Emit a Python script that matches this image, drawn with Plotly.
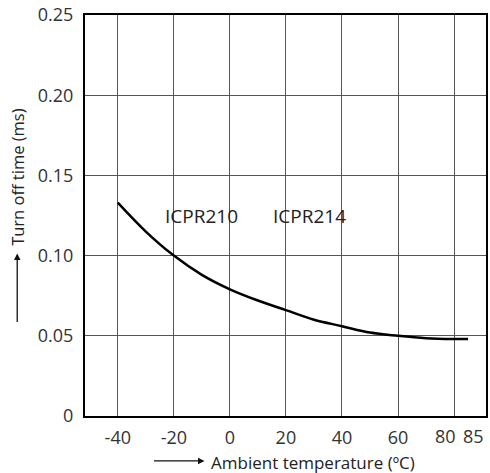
import plotly.graph_objects as go

temps = [-40, -30, -20, -10, 0, 10, 20, 30, 40, 50, 60, 70, 80, 85]
turn_off = [0.133, 0.115, 0.100, 0.088, 0.079, 0.072, 0.066, 0.060, 0.056, 0.052, 0.050, 0.0485, 0.048, 0.048]

x_ticks = [-40, -20, 0, 20, 40, 60]
x_ticklabels = ["-40", "-20", "0", "20", "40", "60"]
x_end_ticks = [80, 85]
x_end_labels = ["80", "85"]
x_grid = [-40, -20, 0, 20, 40, 60, 80]
y_ticks = [0, 0.05, 0.10, 0.15, 0.20, 0.25]
y_ticklabels = ["0", "0.05", "0.10", "0.15", "0.20", "0.25"]

labels = ["ICPR210", "ICPR214"]
label_x = [-10, 28.5]
label_y = [0.1245, 0.1245]

FONT = "Open Sans"
XR = [-51.7, 91.4]

fig = go.Figure()
fig.add_trace(go.Scatter(x=temps, y=turn_off, mode="lines",
                         line=dict(color="black", width=2.5, shape="spline"),
                         showlegend=False, hoverinfo="skip"))
fig.add_trace(go.Scatter(x=[XR[0]], y=[0], xaxis="x2", mode="markers",
                         marker=dict(opacity=0), showlegend=False, hoverinfo="skip"))

for t, xx, yy in zip(labels, label_x, label_y):
    fig.add_annotation(x=xx, y=yy, text=t, showarrow=False,
                       font=dict(family=FONT, size=19, color="#222"))

# closely spaced end tick labels (80, 85)
for v, t, anchor, shift in zip(x_end_ticks, x_end_labels, ["right", "left"], [4, -7]):
    fig.add_annotation(x=v, xref="x", y=0, yref="paper", text=t, showarrow=False,
                       xanchor=anchor, yanchor="middle", xshift=shift, yshift=-20,
                       font=dict(family=FONT, size=18, color="#333"))

# axis titles
fig.add_annotation(xref="paper", yref="paper", x=-0.169, y=0.597, text="Turn off time (ms)",
                   textangle=-90, showarrow=False, xanchor="center", yanchor="middle",
                   font=dict(family=FONT, size=16.5, color="#222"))
fig.add_annotation(xref="paper", yref="paper", x=-0.169, y=0.405, ax=0, ay=70,
                   text="", showarrow=True, arrowhead=2, arrowsize=1, arrowwidth=1.3,
                   arrowcolor="#111")
fig.add_annotation(xref="paper", yref="paper", x=0.568, y=-0.117, text="Ambient temperature (ºC)",
                   showarrow=False, xanchor="center", yanchor="middle",
                   font=dict(family=FONT, size=17, color="#222"))
fig.add_annotation(xref="paper", yref="paper", x=0.298, y=-0.112, ax=-52, ay=0,
                   text="", showarrow=True, arrowhead=2, arrowsize=1, arrowwidth=1.3,
                   arrowcolor="#111")

fig.update_layout(
    width=490, height=473,
    margin=dict(l=85, r=2, t=14, b=57),
    paper_bgcolor="white", plot_bgcolor="white",
    xaxis=dict(range=XR, tickvals=x_ticks, ticktext=x_ticklabels, tickangle=0,
               showgrid=False, zeroline=False,
               showline=True, linecolor="black", linewidth=2, mirror=True,
               ticks="", ticklabelstandoff=4,
               tickfont=dict(family=FONT, size=18, color="#333")),
    xaxis2=dict(range=XR, overlaying="x", tickvals=x_grid, showgrid=True,
                gridcolor="#555", gridwidth=1, showticklabels=False, zeroline=False,
                showline=False, ticks="", side="bottom"),
    yaxis=dict(range=[0, 0.25], tickvals=y_ticks, ticktext=y_ticklabels,
               showgrid=True, gridcolor="#555", gridwidth=1, zeroline=False,
               showline=True, linecolor="black", linewidth=2, mirror=True,
               ticks="", ticklabelstandoff=6,
               tickfont=dict(family=FONT, size=18, color="#333")),
)
fig.write_html("out.html")
